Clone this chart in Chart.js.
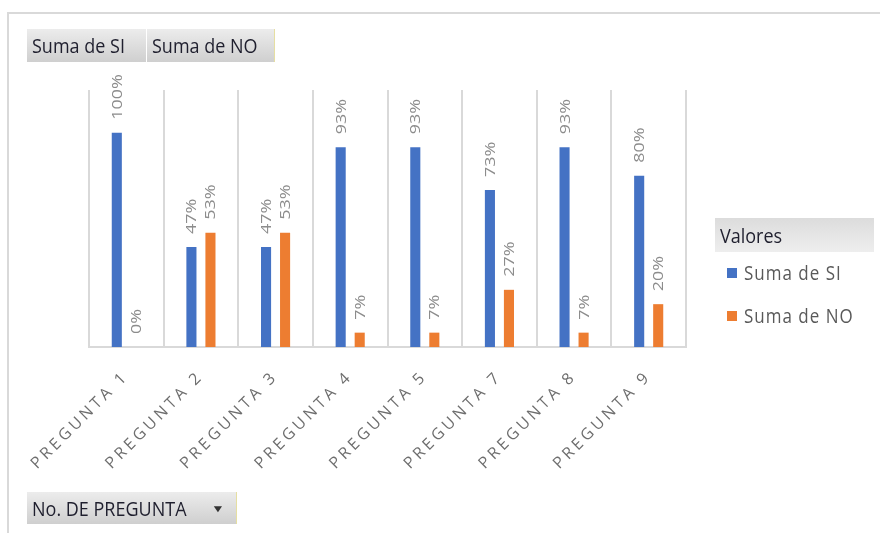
<!DOCTYPE html>
<html>
<head>
<meta charset="utf-8">
<script src="https://cdn.jsdelivr.net/npm/chart.js@4.4.1/dist/chart.umd.min.js"></script>
<style>
  body { margin: 0; background: #fff; font-family: "Open Sans", sans-serif; }
  #wrap { position: relative; width: 880px; height: 533px; overflow: hidden; }
  #frame { position: absolute; left: 7px; top: 12px; width: 880px; height: 540px;
           border-top: 2px solid #d9d9d9; border-left: 2px solid #d9d9d9; }
  canvas { position: absolute; left: 0; top: 0; }
  .btn { position: absolute; height: 33px; line-height: 33px; color: #1f1f2e;
         background: linear-gradient(#ececec, #cfcfcf); font-size: 18px; box-sizing: border-box; white-space: nowrap; }
  .btn span { display: inline-block; transform: scaleY(1.12); }
  .legend-head { position: absolute; left: 715px; top: 218px; width: 159px; height: 34px; line-height: 34px;
                 background: linear-gradient(#dcdcdc, #eeeeee); color: #1f1f2e; font-size: 18px; padding-left: 5px; box-sizing: border-box; }
  .legend-head span { display: inline-block; transform: scaleY(1.12); }
  .item { position: absolute; left: 727px; font-size: 17px; color: #595959; letter-spacing: 1px; white-space: nowrap; }
  .item i { display: inline-block; width: 10px; height: 10px; margin-right: 7px; vertical-align: middle; position: relative; top: -1px; }
  .item span { display: inline-block; transform: scaleY(1.15); }
</style>
</head>
<body>
<div id="wrap">
  <div id="frame"></div>
  <canvas id="chart" width="880" height="533"></canvas>
  <div class="btn" style="left:27px;top:29px;width:119px;padding-left:5px;"><span>Suma de SI</span></div>
  <div class="btn" style="left:147px;top:29px;width:128px;padding-left:5px;border-right:1px solid #e6dfa2;"><span>Suma de NO</span></div>
  <div class="btn" style="left:27px;top:492px;width:210px;height:32px;line-height:32px;padding-left:5px;border-right:1px solid #e6dfa2;"><span>No. DE PREGUNTA</span><span style="position:absolute;left:186px;top:0;font-size:10px;color:#333;transform:scaleX(1.4);">&#9660;</span></div>
  <div class="legend-head"><span>Valores</span></div>
  <div class="item" style="top:261px;"><i style="background:#4472c4"></i><span>Suma de SI</span></div>
  <div class="item" style="top:304px;"><i style="background:#ed7d31"></i><span>Suma de NO</span></div>
</div>
<script>
// Pivot chart data
const preguntas = ['PREGUNTA 1', 'PREGUNTA 2', 'PREGUNTA 3', 'PREGUNTA 4', 'PREGUNTA 5', 'PREGUNTA 7', 'PREGUNTA 8', 'PREGUNTA 9'];
const sumaSI = [1.0, 0.467, 0.467, 0.933, 0.933, 0.733, 0.933, 0.8];
const sumaNO = [0.0, 0.533, 0.533, 0.067, 0.067, 0.267, 0.067, 0.2];

// spaced-out axis labels like the Excel style
const tickSpacing = {
  id: 'tickSpacing',
  beforeUpdate(chart) { chart.ctx.letterSpacing = '3.5px'; },
  beforeDraw(chart) { chart.ctx.letterSpacing = '3.5px'; }
};

// vertical percentage labels above each bar
const valueLabels = {
  id: 'valueLabels',
  afterDatasetsDraw(chart) {
    const ctx = chart.ctx;
    chart.data.datasets.forEach((ds, i) => {
      chart.getDatasetMeta(i).data.forEach((bar, j) => {
        const txt = Math.round(ds.data[j] * 100) + '%';
        ctx.save();
        ctx.letterSpacing = '0px';
        ctx.translate(bar.x + 1, bar.y - 13);
        ctx.rotate(-Math.PI / 2);
        ctx.scale(1.28, 1);
        ctx.font = '14px "Open Sans"';
        ctx.fillStyle = '#8c8c8c';
        ctx.textAlign = 'left';
        ctx.textBaseline = 'middle';
        ctx.fillText(txt, 0, 0);
        ctx.restore();
      });
    });
  }
};

const ctx = document.getElementById('chart').getContext('2d');
const chart = new Chart(ctx, {
  type: 'bar',
  data: {
    labels: preguntas,
    datasets: [{
      label: 'Suma de SI',
      data: sumaSI,
      backgroundColor: '#4472c4',
      categoryPercentage: 0.51,
      barPercentage: 0.53
    }, {
      label: 'Suma de NO',
      data: sumaNO,
      backgroundColor: '#ed7d31',
      categoryPercentage: 0.51,
      barPercentage: 0.53
    }]
  },
  options: {
    responsive: false,
    animation: false,
    layout: {
      padding: { top: 90, left: 89, right: 194, bottom: 0 }
    },
    plugins: {
      legend: { display: false },
      tooltip: { enabled: false }
    },
    scales: {
      x: {
        grid: { color: '#d9d9d9', lineWidth: 2, drawTicks: false, offset: true },
        border: { color: '#d9d9d9', width: 2 },
        ticks: {
          color: '#6e6e6e',
          font: { family: 'Open Sans', size: 16 },
          minRotation: 45,
          maxRotation: 45,
          padding: 20,
          autoSkip: false
        },
        afterFit(scale) {
          scale.height = 186;
          scale.paddingLeft = 0;
          scale.paddingRight = 0;
        }
      },
      y: {
        display: false,
        min: 0,
        max: 1.2
      }
    }
  },
  plugins: [tickSpacing, valueLabels]
});
</script>
</body>
</html>
